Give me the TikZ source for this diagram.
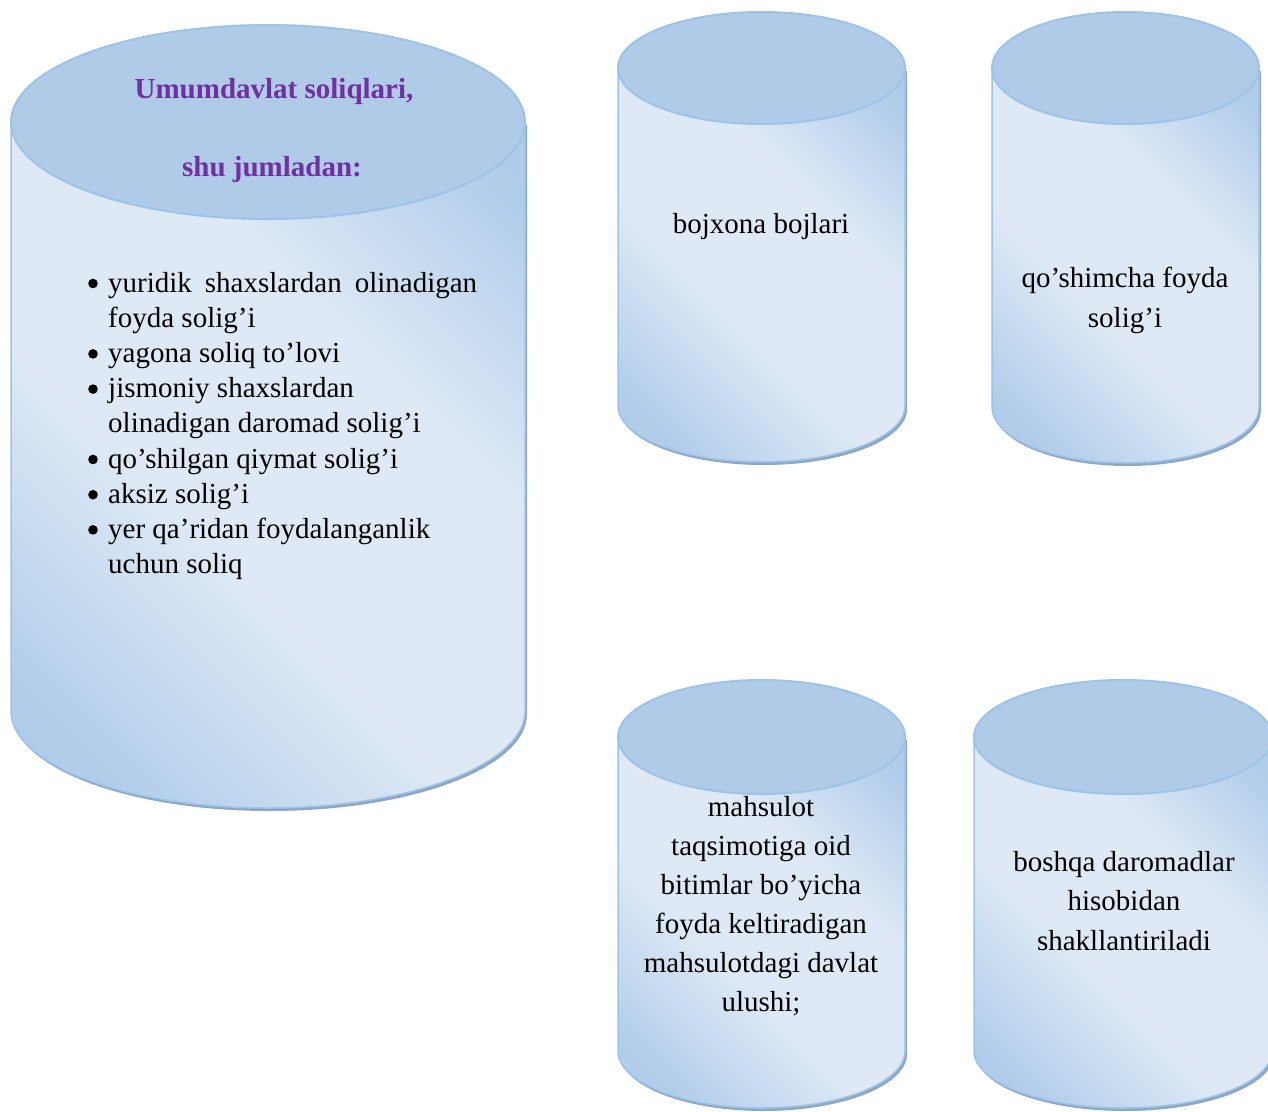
\documentclass[tikz,border=0pt]{standalone}
\usepackage{fontspec}
\setmainfont{Liberation Serif}

\definecolor{cyltop}{HTML}{AFCBE8}
\definecolor{cyledge}{HTML}{9DC3E6}
\definecolor{cyllight}{HTML}{DEE9F5}
\definecolor{cyldark}{HTML}{9FC2E6}
\definecolor{cylshadow}{HTML}{8DA7C4}
\definecolor{headpurple}{HTML}{7030A0}

% body of the cylinders: dark at both ends of the axis, a wide light band between
\pgfdeclareverticalshading{cylbodyshade}{100bp}{%
  color(0bp)=(cyldark); color(22bp)=(cyldark!70!cyllight);
  color(42bp)=(cyllight); color(62bp)=(cyllight);
  color(80bp)=(cyldark!70!cyllight); color(100bp)=(cyldark)}

% #1 left x, #2 right x, #3 top y, #4 bottom y, #5 vertical radius of the caps
\newcommand\drawcylinder[5]{%
  \pgfmathsetmacro\cylcx{(#1+#2)/2}%
  \pgfmathsetmacro\cylrx{(#2-#1)/2}%
  \pgfmathsetmacro\cylya{#3+#5}%
  \pgfmathsetmacro\cylyb{#4-#5}%
  \begin{scope}[shift={(2,3)}]
    \fill[cylshadow] (#1,\cylya) -- (#1,\cylyb)
      arc[start angle=180, end angle=0, x radius=\cylrx, y radius=#5]
      -- (#2,\cylya) -- cycle;
  \end{scope}
  \shade[cylbody] (#1,\cylya) -- (#1,\cylyb)
      arc[start angle=180, end angle=0, x radius=\cylrx, y radius=#5]
      -- (#2,\cylya) -- cycle;
  \draw[cyledge, line width=1.5] (#1,\cylya) -- (#1,\cylyb)
      arc[start angle=180, end angle=0, x radius=\cylrx, y radius=#5]
      -- (#2,\cylya);
  \filldraw[fill=cyltop, draw=cyledge, line width=2]
      (\cylcx,\cylya) ellipse[x radius=\cylrx, y radius=#5];
}

% list item: round dot, then text with a hanging indent
\newcommand\bitem{\par\hangindent=20pt\hangafter=1\noindent
  \makebox[20pt][l]{\tikz[baseline=0pt]\fill[black] (5pt,8.5pt) circle[radius=4.8pt];}}

\tikzset{
  cylbody/.style={shading=cylbodyshade, shading angle=-45},
  heading/.style={anchor=base, inner sep=0, font=\fontsize{29}{35}\selectfont\bfseries, text=headpurple},
  label/.style={anchor=base, inner sep=0, font=\fontsize{29}{35}\selectfont},
}

\begin{document}
\begin{tikzpicture}[x=1pt, y=-1pt]
  \useasboundingbox (0,0) rectangle (1268,1111);

  % cylinders
  \drawcylinder{11}{525}{25}{808}{97}
  \drawcylinder{618}{905}{12}{462}{56}
  \drawcylinder{992}{1259}{12}{463}{56}
  \drawcylinder{618}{905}{680}{1108}{57}
  \drawcylinder{974}{1272}{680}{1108}{57}

  % large cylinder: heading and list
  \node[heading] (headA) at (274,98) {Umumdavlat soliqlari,};
  \node[heading] (headB) at (272,176) {shu jumladan:};
  \node[label, anchor=base west] (listA) at (88,292) {\parbox[t]{420pt}{%
    \fontsize{29}{35.2}\selectfont
    \bitem\makebox[369pt][s]{yuridik shaxslardan olinadigan}\newline foyda solig’i\hfill
    \bitem yagona soliq to’lovi\hfill
    \bitem jismoniy shaxslardan\newline olinadigan daromad solig’i\hfill
    \bitem qo’shilgan qiymat solig’i\hfill
    \bitem aksiz solig’i\hfill
    \bitem yer qa’ridan foydalanganlik\newline uchun soliq\hfill\par}};

  % small cylinders
  \node[label] (customs) at (761,233) {bojxona bojlari};
  \node[label] (profit) at (1125,287) {\parbox[t]{300pt}{\centering
    \fontsize{29}{40}\selectfont qo’shimcha foyda\\solig’i\par}};
  \node[label] (share) at (761,816) {\parbox[t]{300pt}{\centering
    \fontsize{29}{39}\selectfont mahsulot\\taqsimotiga oid\\bitimlar bo’yicha\\foyda keltiradigan\\mahsulotdagi davlat\\ulushi;\par}};
  \node[label] (other) at (1124,871) {\parbox[t]{300pt}{\centering
    \fontsize{29}{39.5}\selectfont boshqa daromadlar\\hisobidan\\shakllantiriladi\par}};
\end{tikzpicture}
\end{document}
